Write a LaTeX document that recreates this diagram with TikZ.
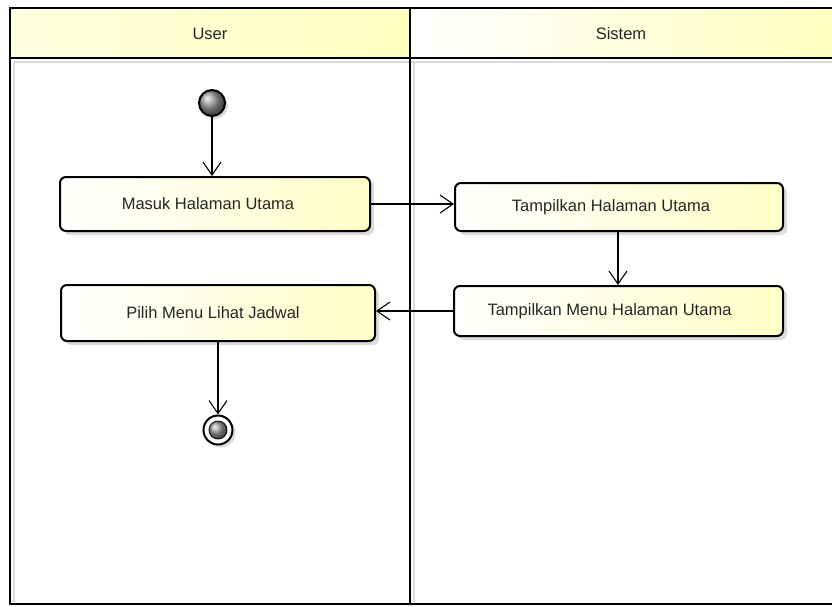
\documentclass[tikz,border=0pt]{standalone}
\usepackage{fontspec}
\setmainfont{Liberation Sans}
\usetikzlibrary{arrows.meta,shadows}
\begin{document}
\begin{tikzpicture}[x=1pt,y=-1pt,
  lane/.style={line width=2.2pt, draw=black},
  laneshadow/.style={line width=2pt, draw=black!15},
  act/.style={draw=black, line width=2pt, rounded corners=6pt,
    left color=white, right color=yellow!22,
    drop shadow={shadow xshift=4pt, shadow yshift=-4pt, fill=black!14, opacity=1},
    font=\fontsize{16.5}{18}\selectfont, text=black!85},
  flow/.style={line width=1.1pt, draw=black, -{Straight Barb[length=13pt,width=18pt,line width=1.1pt]}},
  hdr/.style={font=\fontsize{16.5}{18}\selectfont, text=black!85}
]
\useasboundingbox (0,0) rectangle (832,606);
\fill[white] (0,0) rectangle (832,606);
% header cells
\shade[left color=yellow!12, right color=yellow!25] (10,8) rectangle (410,58);
\shade[left color=white, right color=yellow!25] (410,8) rectangle (832,58);
% lane shadows
\draw[laneshadow] (14,62) -- (14,602);
\draw[laneshadow] (414,62) -- (414,602);
\draw[laneshadow] (14,62) -- (832,62);
% lane frame
\draw[lane] (832,8) -- (10,8) -- (10,604) -- (832,604);
\draw[lane] (10,58) -- (832,58);
\draw[lane] (410,8) -- (410,604);
\node[hdr] (hu) at (210,34) {User};
\node[hdr] (hs) at (621,34) {Sistem};

% start
\node[circle, draw=black, line width=2pt, minimum size=26pt, inner sep=0pt,
  shading=ball, ball color=black!40,
  drop shadow={shadow xshift=3pt, shadow yshift=-3pt, fill=black!14, opacity=1}] (start) at (212,103) {};

\node[act, minimum width=310pt, minimum height=54pt] (b1) at (215,204) {Masuk Halaman Utama\hspace*{14pt}};
\node[act, minimum width=328pt, minimum height=48pt] (b2) at (619,207) {Tampilkan Halaman Utama\hspace*{16pt}};
\node[act, minimum width=329pt, minimum height=50pt] (b3) at (618.5,311) {Tampilkan Menu Halaman Utama\hspace*{18pt}};
\node[act, minimum width=314pt, minimum height=56pt] (b4) at (218,313) {Pilih Menu Lihat Jadwal\hspace*{10pt}};

% end
\node[circle, draw=black, line width=2pt, fill=white, minimum size=29pt, inner sep=0pt,
  drop shadow={shadow xshift=3pt, shadow yshift=-3pt, fill=black!14, opacity=1}] (end) at (218,430) {};
\node[circle, shading=ball, ball color=black!40, draw=black, line width=0.8pt, minimum size=18pt, inner sep=0pt] (endin) at (end.center) {};

\draw[flow] (start) -- (start |- b1.north);
\draw[flow] (b1.east) -- (b2.west |- b1.east);
\draw[flow] (b2.south -| 618,0) -- (b3.north -| 618,0);
\draw[flow] (b3.west) -- (b4.east |- b3.west);
\draw[flow] (b4.south) -- (end.north);
\end{tikzpicture}
\end{document}
